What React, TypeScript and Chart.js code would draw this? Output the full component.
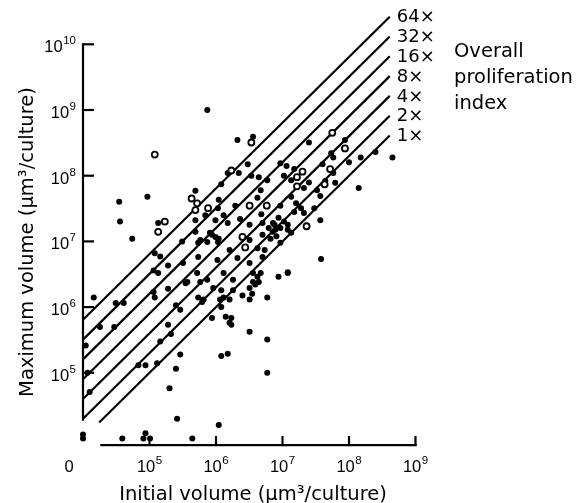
import { useEffect, useRef } from 'react';
import { Chart, registerables } from 'chart.js';

Chart.register(...registerables);

// Filled circles: initial volume (x) and maximum volume (y), µm³/culture. 0 = plotted on the "0" axis.
const solidInitial = [
  7.4e5, 2.1e6, 3.6e6, 3.5e4, 9.3e4, 3.6e4, 5.5e4, 1.35e5, 4.9e5, 1.1e6,
  1.2e6, 1.5e6, 2.2e6, 3.0e6, 3.4e6, 4.4e6, 5.9e6, 4.7e6, 1.15e7, 1.5e7,
  1.05e7, 1.35e7, 4.2e6, 9.3e6, 1.35e7, 1.6e7, 1.07e6, 1.95e6, 3.1e5, 5.8e5,
  2.5e7, 8.7e7, 5.4e7, 5.8e7, 1.5e8, 2.5e8, 4.5e8, 1.0e8, 4.0e7, 5.8e7,
  2.5e7, 4.4e7, 6.2e7, 2.1e7, 3.3e7, 3.7e7, 1.4e8, 3.0e7, 1.9e7, 1.5e7,
  9.3e6, 2.1e7, 3.7e7, 3.8e7, 1.2e7, 1.05e7, 1.2e7, 4.9e5, 6.9e5, 9.8e5,
  1.3e6, 1.5e6, 2.3e6, 3.2e6, 4.8e6, 5.0e6, 7.2e6, 8.7e6, 1.2e7, 1.35e7,
  4.9e5, 8.1e5, 9.8e5, 1.07e6, 3.2e6, 5.0e6, 7.1e6, 9.3e6, 5.4e5, 7.4e5,
  1.6e6, 2.1e6, 4.2e6, 5.4e6, 5.4e5, 1.05e6, 3.2e6, 5.0e6, 5.2e5, 1.3e6,
  1.8e6, 3.6e6, 4.7e6, 4.4e6, 3.6e6, 8.7e6, 1.2e7, 5.8e5, 9.1e5, 1.2e6,
  3.2e6, 3.5e6, 5.4e5, 6.5e5, 1.3e6, 1.2e6, 2.5e6, 3.2e6, 5.9e6, 8.7e5,
  1.4e6, 1.7e6, 1.7e6, 1.6e6, 6.2e6, 7.8e6, 8.1e6, 6.6e6, 9.3e6, 7.6e6,
  1.2e5, 1.45e5, 1.15e5, 1.35e5, 1.9e5, 3.2e5, 3.7e5, 1.9e5, 1.15e5, 1.2e5,
  3.1e4, 4.1e4, 1.45e4, 2.5e5, 1.8e4, 2.95e4, 1.9e5, 2.9e5, 3.5e5, 7.4e5,
  8.7e5, 1.1e6, 1.45e5, 2.1e5, 6.8e4, 8.7e4, 1.3e5, 2.5e5, 2.9e5, 1.2e6,
  1.5e6, 3.2e6, 5.9e6, 5.9e6, 2.0e5, 2.6e5, 1.1e6, 1.1e4, 1.17e4, 1.26e4,
  3.9e6, 4.2e6, 1.8e6, 1.6e6, 1.15e6, 6.2e5, 3.9e4, 8.1e4, 8.7e4, 1.02e5,
  4.4e5, 0, 0,
];
const solidMaximum = [
  1.0e9, 3.5e8, 3.9e8, 4.0e7, 4.8e7, 2.0e7, 1.1e7, 1.9e7, 5.9e7, 4.3e7,
  7.4e7, 1.1e8, 1.1e8, 1.5e8, 1.0e8, 9.5e7, 8.5e7, 6.0e7, 1.4e8, 1.26e8,
  1.0e8, 8.5e7, 4.6e7, 3.5e7, 4.8e7, 3.8e7, 3.2e7, 3.5e7, 1.0e7, 1.05e7,
  3.2e8, 3.5e8, 2.2e8, 1.9e8, 1.9e8, 2.3e8, 1.9e8, 1.6e8, 1.5e8, 1.1e8,
  7.9e7, 8.3e7, 7.8e7, 6.5e7, 6.0e7, 4.9e7, 6.5e7, 3.2e7, 3.2e7, 2.8e7,
  1.55e8, 2.7e7, 2.1e7, 5.4e6, 3.3e6, 2.0e7, 1.5e7, 2.1e7, 2.5e7, 2.1e7,
  2.5e7, 1.9e7, 2.2e7, 1.8e7, 2.6e7, 1.9e7, 1.9e7, 2.3e7, 1.8e7, 1.35e7,
  1.4e7, 1.35e7, 1.17e7, 9.8e6, 1.05e7, 1.26e7, 1.4e7, 9.5e6, 9.5e6, 9.8e6,
  7.4e6, 5.6e6, 7.9e6, 7.4e6, 5.8e6, 5.2e6, 4.7e6, 5.8e6, 3.3e6, 3.3e6,
  2.6e6, 3.3e6, 3.3e6, 2.4e6, 2.4e6, 2.9e6, 3.4e6, 2.4e6, 1.95e6, 1.8e6,
  1.95e6, 1.6e6, 1.4e6, 1.3e6, 1.4e6, 1.0e6, 1.5e6, 1.3e6, 1.4e6, 6.8e5,
  7.1e5, 6.8e5, 5.4e5, 5.8e5, 1.6e7, 1.5e7, 1.2e7, 1.1e7, 1.6e7, 1.8e7,
  6.6e6, 5.9e6, 3.6e6, 3.3e6, 4.3e6, 4.7e6, 2.4e6, 1.9e6, 1.7e6, 1.4e6,
  1.15e6, 1.15e6, 1.4e6, 1.07e6, 5.0e5, 5.0e5, 5.4e5, 9.1e5, 2.3e6, 2.6e6,
  1.26e7, 1.1e7, 3.0e5, 3.9e5, 1.3e5, 1.3e5, 1.4e5, 1.15e5, 1.9e5, 1.8e5,
  1.95e5, 4.2e5, 3.2e5, 1.0e5, 5.8e4, 2.0e4, 1.6e4, 2.6e5, 1.0e5, 5.1e4,
  2.2e6, 2.9e6, 1.8e6, 1.3e6, 1.3e6, 1.2e6, 0, 0, 1.2e4, 0,
  0, 1.15e4, 0,
];

// Open circles
const openInitial = [
  1.2e5, 3.4e6, 1.7e5, 1.35e5, 4.3e5, 5.2e5, 4.9e5, 7.6e5, 1.7e6, 3.2e6,
  5.8e6, 1.65e7, 5.6e7, 8.7e7, 5.2e7, 4.3e7, 1.65e7, 2.0e7, 2.5e6, 2.75e6,
  2.3e7,
];
const openMaximum = [
  2.1e8, 3.2e8, 2.0e7, 1.4e7, 4.5e7, 3.8e7, 3.0e7, 3.2e7, 1.2e8, 3.5e7,
  3.5e7, 6.9e7, 4.5e8, 2.6e8, 1.26e8, 7.4e7, 9.5e7, 1.15e8, 1.17e7, 8.1e6,
  1.7e7,
];

// Overall proliferation index lines (maximum = index × initial)
const indexFactors = [1, 2, 4, 8, 16, 32, 64];
const indexLabels = ['1×', '2×', '4×', '8×', '16×', '32×', '64×'];
const legendLines = ['Overall', 'proliferation', 'index'];

const xTickValues = [1e5, 1e6, 1e7, 1e8, 1e9];
const xTickExponents = ['5', '6', '7', '8', '9'];
const yTickValues = [1e5, 1e6, 1e7, 1e8, 1e9, 1e10];
const yTickExponents = ['5', '6', '7', '8', '9', '10'];

const X_MIN = 1e4;
const X_MAX = 1e9;
const Y_MIN = 1e4;
const Y_MAX = 1e10;
const AXIS_ZERO = 1e4; // where zero values are drawn
const LINE_START = 1e4;
const UNITY_LINE_START = 1.75e4;
const LINE_END = 4.1e8;

const INK = '#000';
const TICK_FONT = '"Liberation Sans", Arial, sans-serif';
const TITLE_FONT = '"DejaVu Sans", sans-serif';

const toPlot = (v: number) => (v === 0 ? AXIS_ZERO : v);

function drawPower(ctx: CanvasRenderingContext2D, exp: string, x: number, baseY: number, align: 'center' | 'right') {
  ctx.font = `16.5px ${TICK_FONT}`;
  const w1 = ctx.measureText('10').width;
  ctx.font = `11.5px ${TICK_FONT}`;
  const w2 = ctx.measureText(exp).width + 0.5;
  const total = w1 + w2;
  const left = align === 'center' ? x - total / 2 : x - total;
  ctx.textAlign = 'left';
  ctx.textBaseline = 'alphabetic';
  ctx.font = `16.5px ${TICK_FONT}`;
  ctx.fillText('10', left, baseY);
  ctx.font = `11.5px ${TICK_FONT}`;
  ctx.fillText(exp, left + w1 + 0.5, baseY - 8);
}

const axesPlugin = {
  id: 'axesPlugin',
  beforeDatasetsDraw(chart: any) {
    const { ctx } = chart;
    const xs = chart.scales.x;
    const ys = chart.scales.y;
    ctx.save();
    ctx.strokeStyle = INK;
    ctx.lineWidth = 2.2;
    const ax = xs.getPixelForValue(X_MIN);
    ctx.beginPath();
    ctx.moveTo(ax, ys.getPixelForValue(Y_MAX) - 1);
    ctx.lineTo(ax, ys.getPixelForValue(10 ** 4.27));
    ctx.stroke();
    yTickValues.forEach((v) => {
      const py = ys.getPixelForValue(v);
      ctx.beginPath();
      ctx.moveTo(ax, py);
      ctx.lineTo(ax + 11, py);
      ctx.stroke();
    });
    const by = ys.getPixelForValue(10 ** 3.9);
    ctx.beginPath();
    ctx.moveTo(xs.getPixelForValue(10 ** 4.26), by);
    ctx.lineTo(xs.getPixelForValue(X_MAX) + 1, by);
    ctx.stroke();
    xTickValues.forEach((v) => {
      const px = xs.getPixelForValue(v);
      ctx.beginPath();
      ctx.moveTo(px, by + 1);
      ctx.lineTo(px, by - 9);
      ctx.stroke();
    });
    ctx.restore();
  },
  afterDraw(chart: any) {
    const { ctx } = chart;
    const xs = chart.scales.x;
    const ys = chart.scales.y;
    ctx.save();
    ctx.fillStyle = INK;
    const ax = xs.getPixelForValue(X_MIN);
    const by = ys.getPixelForValue(10 ** 3.9);
    // y tick labels
    yTickValues.forEach((v, i) => {
      drawPower(ctx, yTickExponents[i], ax - 7, ys.getPixelForValue(v) + 8, 'right');
    });
    // x tick labels
    xTickValues.forEach((v, i) => {
      drawPower(ctx, xTickExponents[i], xs.getPixelForValue(v), by + 27, 'center');
    });
    ctx.font = `16.5px ${TICK_FONT}`;
    ctx.textAlign = 'center';
    ctx.textBaseline = 'alphabetic';
    ctx.fillText('0', ax - 14, by + 27);

    // axis titles
    ctx.font = `19.5px ${TITLE_FONT}`;
    ctx.textAlign = 'center';
    ctx.fillText('Initial volume (μm³/culture)', 253, 500);
    ctx.save();
    ctx.translate(33, 242);
    ctx.rotate(-Math.PI / 2);
    ctx.fillText('Maximum volume (μm³/culture)', 0, 0);
    ctx.restore();

    // index labels
    ctx.font = `18px ${TITLE_FONT}`;
    ctx.textAlign = 'left';
    ctx.textBaseline = 'middle';
    indexFactors.forEach((k, i) => {
      const px = xs.getPixelForValue(LINE_END);
      const py = ys.getPixelForValue(k * LINE_END);
      ctx.fillText(indexLabels[i], px + 7, py + 1);
    });
    ctx.font = `19.5px ${TITLE_FONT}`;
    ctx.textBaseline = 'alphabetic';
    legendLines.forEach((t, i) => {
      ctx.fillText(t, 454, 57 + i * 26);
    });
    ctx.restore();
  },
};

export default function App() {
  const canvasRef = useRef<HTMLCanvasElement | null>(null);

  useEffect(() => {
    if (!canvasRef.current) return;
    const lineSets = indexFactors.map((k, i) => {
      const start = i === 0 ? UNITY_LINE_START : LINE_START;
      return {
        type: 'scatter' as const,
        data: [
          { x: start, y: k * start },
          { x: LINE_END, y: k * LINE_END },
        ],
        showLine: true,
        borderColor: INK,
        borderWidth: 2.2,
        pointRadius: 0,
        fill: false,
        clip: false as any,
        order: 3,
      };
    });
    const solid = solidInitial.map((x, i) => ({ x: toPlot(x), y: toPlot(solidMaximum[i]) }));
    const open = openInitial.map((x, i) => ({ x: toPlot(x), y: toPlot(openMaximum[i]) }));

    const chart = new Chart(canvasRef.current, {
      type: 'scatter',
      data: {
        datasets: [
          ...lineSets,
          {
            data: solid,
            pointRadius: 3,
            backgroundColor: INK,
            borderWidth: 0,
            clip: false as any,
            order: 2,
          },
          {
            data: open,
            pointRadius: 3,
            backgroundColor: '#fff',
            borderColor: INK,
            borderWidth: 1.8,
            clip: false as any,
            order: 1,
          },
        ] as any,
      },
      options: {
        responsive: false,
        animation: false,
        devicePixelRatio: 1,
        layout: { padding: { left: 83, right: 169.5, top: 44.3, bottom: 64.5 } },
        scales: {
          x: { type: 'logarithmic', min: X_MIN, max: X_MAX, display: false },
          y: { type: 'logarithmic', min: Y_MIN, max: Y_MAX, display: false },
        },
        plugins: {
          legend: { display: false },
          tooltip: { enabled: false },
        },
      },
      plugins: [axesPlugin],
    });
    return () => chart.destroy();
  }, []);

  return (
    <div style={{ position: 'absolute', left: 0, top: 0, width: 585, height: 503, background: '#fff' }}>
      <canvas ref={canvasRef} width={585} height={503} />
    </div>
  );
}
